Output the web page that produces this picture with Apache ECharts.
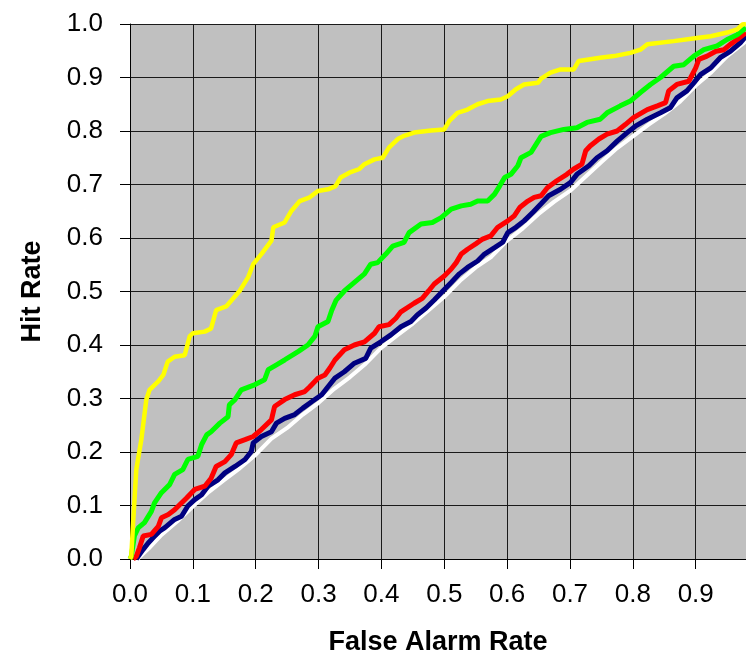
<!DOCTYPE html>
<html>
<head>
<meta charset="utf-8">
<script src="https://cdn.jsdelivr.net/npm/echarts@6/dist/echarts.min.js"></script>
<style>
html, body { margin: 0; padding: 0; background: #fff; }
#chart { width: 746px; height: 658px; }
</style>
</head>
<body>
<div id="chart"></div>
<script>
// ROC curves, [false alarm rate, hit rate]
var whiteCurve = [[0.012,0],[0.03,0.02],[0.05,0.045],[0.075,0.07],[0.1,0.098],[0.125,0.125],[0.15,0.148],[0.175,0.17],[0.2,0.195],[0.225,0.225],[0.25,0.245],[0.275,0.27],[0.3,0.292],[0.325,0.318],[0.35,0.34],[0.375,0.365],[0.4,0.395],[0.425,0.418],[0.45,0.44],[0.475,0.465],[0.5,0.49],[0.525,0.52],[0.55,0.545],[0.575,0.565],[0.6,0.595],[0.625,0.618],[0.65,0.645],[0.675,0.668],[0.7,0.688],[0.725,0.715],[0.75,0.742],[0.775,0.768],[0.8,0.79],[0.825,0.812],[0.85,0.832],[0.875,0.855],[0.9,0.885],[0.925,0.91],[0.95,0.94],[0.98,0.968]];

var navyCurve = [[0.01,0],[0.013,0.005],[0.021,0.018],[0.029,0.03],[0.037,0.04],[0.047,0.052],[0.055,0.058],[0.071,0.074],[0.082,0.08],[0.092,0.099],[0.103,0.111],[0.114,0.12],[0.124,0.136],[0.14,0.148],[0.151,0.161],[0.167,0.173],[0.183,0.186],[0.193,0.201],[0.196,0.217],[0.209,0.229],[0.225,0.238],[0.233,0.254],[0.246,0.263],[0.262,0.27],[0.275,0.282],[0.289,0.294],[0.305,0.307],[0.315,0.322],[0.326,0.338],[0.341,0.35],[0.357,0.366],[0.375,0.375],[0.383,0.394],[0.399,0.406],[0.415,0.419],[0.431,0.434],[0.447,0.444],[0.457,0.456],[0.471,0.469],[0.484,0.484],[0.497,0.5],[0.511,0.517],[0.524,0.533],[0.537,0.545],[0.553,0.557],[0.564,0.57],[0.58,0.582],[0.593,0.592],[0.601,0.61],[0.614,0.62],[0.627,0.632],[0.641,0.648],[0.654,0.664],[0.666,0.679],[0.685,0.691],[0.701,0.704],[0.711,0.719],[0.73,0.735],[0.743,0.75],[0.759,0.763],[0.775,0.781],[0.791,0.797],[0.804,0.809],[0.823,0.822],[0.844,0.834],[0.86,0.844],[0.87,0.862],[0.886,0.875],[0.897,0.89],[0.908,0.906],[0.924,0.918],[0.939,0.937],[0.955,0.949],[0.971,0.965],[0.98,0.977]];

var redCurve = [[0.005,0],[0.01,0.005],[0.015,0.021],[0.021,0.043],[0.034,0.046],[0.045,0.061],[0.05,0.077],[0.061,0.083],[0.071,0.092],[0.09,0.114],[0.103,0.13],[0.119,0.136],[0.129,0.151],[0.137,0.173],[0.151,0.182],[0.161,0.195],[0.169,0.217],[0.183,0.223],[0.196,0.229],[0.209,0.242],[0.225,0.26],[0.23,0.285],[0.246,0.298],[0.262,0.307],[0.278,0.313],[0.286,0.322],[0.299,0.338],[0.31,0.344],[0.318,0.357],[0.326,0.372],[0.341,0.391],[0.357,0.4],[0.373,0.406],[0.389,0.422],[0.396,0.434],[0.412,0.438],[0.423,0.45],[0.431,0.462],[0.452,0.478],[0.465,0.487],[0.475,0.501],[0.484,0.514],[0.5,0.529],[0.511,0.542],[0.519,0.554],[0.527,0.57],[0.537,0.579],[0.55,0.589],[0.561,0.598],[0.574,0.604],[0.585,0.62],[0.601,0.632],[0.611,0.641],[0.62,0.657],[0.633,0.669],[0.643,0.676],[0.654,0.679],[0.664,0.694],[0.679,0.707],[0.695,0.719],[0.706,0.729],[0.719,0.738],[0.725,0.763],[0.732,0.772],[0.746,0.785],[0.759,0.794],[0.775,0.8],[0.788,0.812],[0.801,0.825],[0.823,0.84],[0.839,0.847],[0.852,0.853],[0.857,0.875],[0.87,0.887],[0.889,0.893],[0.9,0.918],[0.905,0.934],[0.918,0.94],[0.932,0.949],[0.945,0.952],[0.955,0.962],[0.966,0.971],[0.98,0.984]];

var greenCurve = [[0,0],[0.002,0.005],[0.007,0.043],[0.013,0.058],[0.023,0.068],[0.034,0.089],[0.039,0.105],[0.05,0.124],[0.063,0.139],[0.071,0.158],[0.084,0.167],[0.092,0.186],[0.108,0.192],[0.114,0.214],[0.122,0.232],[0.129,0.238],[0.143,0.254],[0.156,0.266],[0.158,0.288],[0.167,0.298],[0.177,0.316],[0.199,0.326],[0.214,0.335],[0.22,0.354],[0.233,0.363],[0.246,0.372],[0.268,0.388],[0.283,0.4],[0.294,0.416],[0.299,0.434],[0.315,0.444],[0.321,0.465],[0.328,0.484],[0.341,0.501],[0.357,0.517],[0.373,0.533],[0.383,0.551],[0.394,0.554],[0.407,0.57],[0.418,0.585],[0.436,0.592],[0.444,0.61],[0.463,0.626],[0.481,0.629],[0.495,0.638],[0.511,0.654],[0.527,0.66],[0.542,0.663],[0.553,0.669],[0.569,0.669],[0.58,0.682],[0.588,0.697],[0.596,0.713],[0.606,0.719],[0.617,0.735],[0.622,0.75],[0.638,0.76],[0.646,0.775],[0.654,0.79],[0.669,0.797],[0.69,0.803],[0.711,0.806],[0.727,0.816],[0.748,0.822],[0.759,0.834],[0.78,0.847],[0.796,0.856],[0.812,0.872],[0.828,0.887],[0.844,0.9],[0.865,0.921],[0.881,0.924],[0.897,0.94],[0.913,0.952],[0.934,0.959],[0.95,0.971],[0.966,0.98],[0.98,0.993]];

var yellowCurve = [[0,0],[0.002,0.005],[0.005,0.068],[0.01,0.167],[0.018,0.223],[0.026,0.298],[0.031,0.316],[0.045,0.332],[0.053,0.344],[0.06,0.369],[0.071,0.378],[0.087,0.381],[0.095,0.416],[0.1,0.422],[0.119,0.425],[0.129,0.431],[0.137,0.465],[0.153,0.472],[0.164,0.487],[0.175,0.502],[0.188,0.527],[0.196,0.551],[0.209,0.57],[0.225,0.595],[0.228,0.62],[0.246,0.629],[0.257,0.651],[0.27,0.669],[0.286,0.676],[0.299,0.688],[0.315,0.691],[0.327,0.697],[0.335,0.713],[0.349,0.722],[0.365,0.729],[0.373,0.738],[0.389,0.747],[0.402,0.75],[0.412,0.769],[0.426,0.785],[0.436,0.791],[0.452,0.797],[0.479,0.801],[0.5,0.803],[0.508,0.819],[0.521,0.834],[0.537,0.84],[0.553,0.85],[0.569,0.856],[0.59,0.859],[0.601,0.865],[0.614,0.878],[0.627,0.887],[0.649,0.89],[0.654,0.898],[0.669,0.909],[0.685,0.915],[0.706,0.915],[0.714,0.931],[0.748,0.937],[0.77,0.94],[0.796,0.946],[0.812,0.952],[0.823,0.962],[0.865,0.968],[0.902,0.974],[0.924,0.977],[0.95,0.984],[0.966,0.99],[0.974,0.999],[0.98,1.0]];

var xTitle = 'False Alarm Rate';
var yTitle = 'Hit Rate';

var font = 'Liberation Sans, Arial, sans-serif';

function curve(data, color, width) {
    return {
        type: 'line',
        data: data,
        showSymbol: false,
        symbol: 'none',
        lineStyle: { color: color, width: width },
        silent: true,
        animation: false
    };
}

var myChart = echarts.init(document.getElementById('chart'));
var option = {
    backgroundColor: '#fff',
    animation: false,
    grid: {
        left: 130, right: 0, top: 24, bottom: 99,
        outerBoundsMode: 'none',
        containLabel: false,
        show: true,
        backgroundColor: '#c0c0c0',
        borderWidth: 0
    },
    xAxis: {
        type: 'value',
        min: 0, max: 0.98, interval: 0.1,
        name: xTitle,
        nameLocation: 'middle',
        nameGap: 70,
        nameTextStyle: { fontFamily: font, fontSize: 27, fontWeight: 'bold', color: '#000' },
        axisLine: { show: true, lineStyle: { color: '#000', width: 1 } },
        axisTick: { show: true, length: 10, lineStyle: { color: '#000' } },
        axisLabel: {
            fontFamily: font, fontSize: 26, color: '#000', margin: 23,
            showMaxLabel: false,
            formatter: function (v) { return v.toFixed(1); }
        },
        splitLine: { show: true, lineStyle: { color: '#1a1a1a', width: 1 } }
    },
    yAxis: {
        type: 'value',
        min: 0, max: 1, interval: 0.1,
        name: yTitle,
        nameLocation: 'middle',
        nameGap: 84,
        nameTextStyle: { fontFamily: font, fontSize: 27, fontWeight: 'bold', color: '#000' },
        axisLine: { show: true, lineStyle: { color: '#000', width: 1 } },
        axisTick: { show: true, length: 10, lineStyle: { color: '#000' } },
        axisLabel: {
            fontFamily: font, fontSize: 26, color: '#000', margin: 27,
            formatter: function (v) { return v.toFixed(1); }
        },
        splitLine: { show: true, lineStyle: { color: '#1a1a1a', width: 1 } }
    },
    series: [
        curve(whiteCurve, '#ffffff', 4),
        curve(navyCurve, '#000080', 5),
        curve(redCurve, '#ff0000', 5),
        curve(greenCurve, '#00ff00', 5),
        curve(yellowCurve, '#ffff00', 4.5)
    ]
};
myChart.setOption(option);
</script>
</body>
</html>
